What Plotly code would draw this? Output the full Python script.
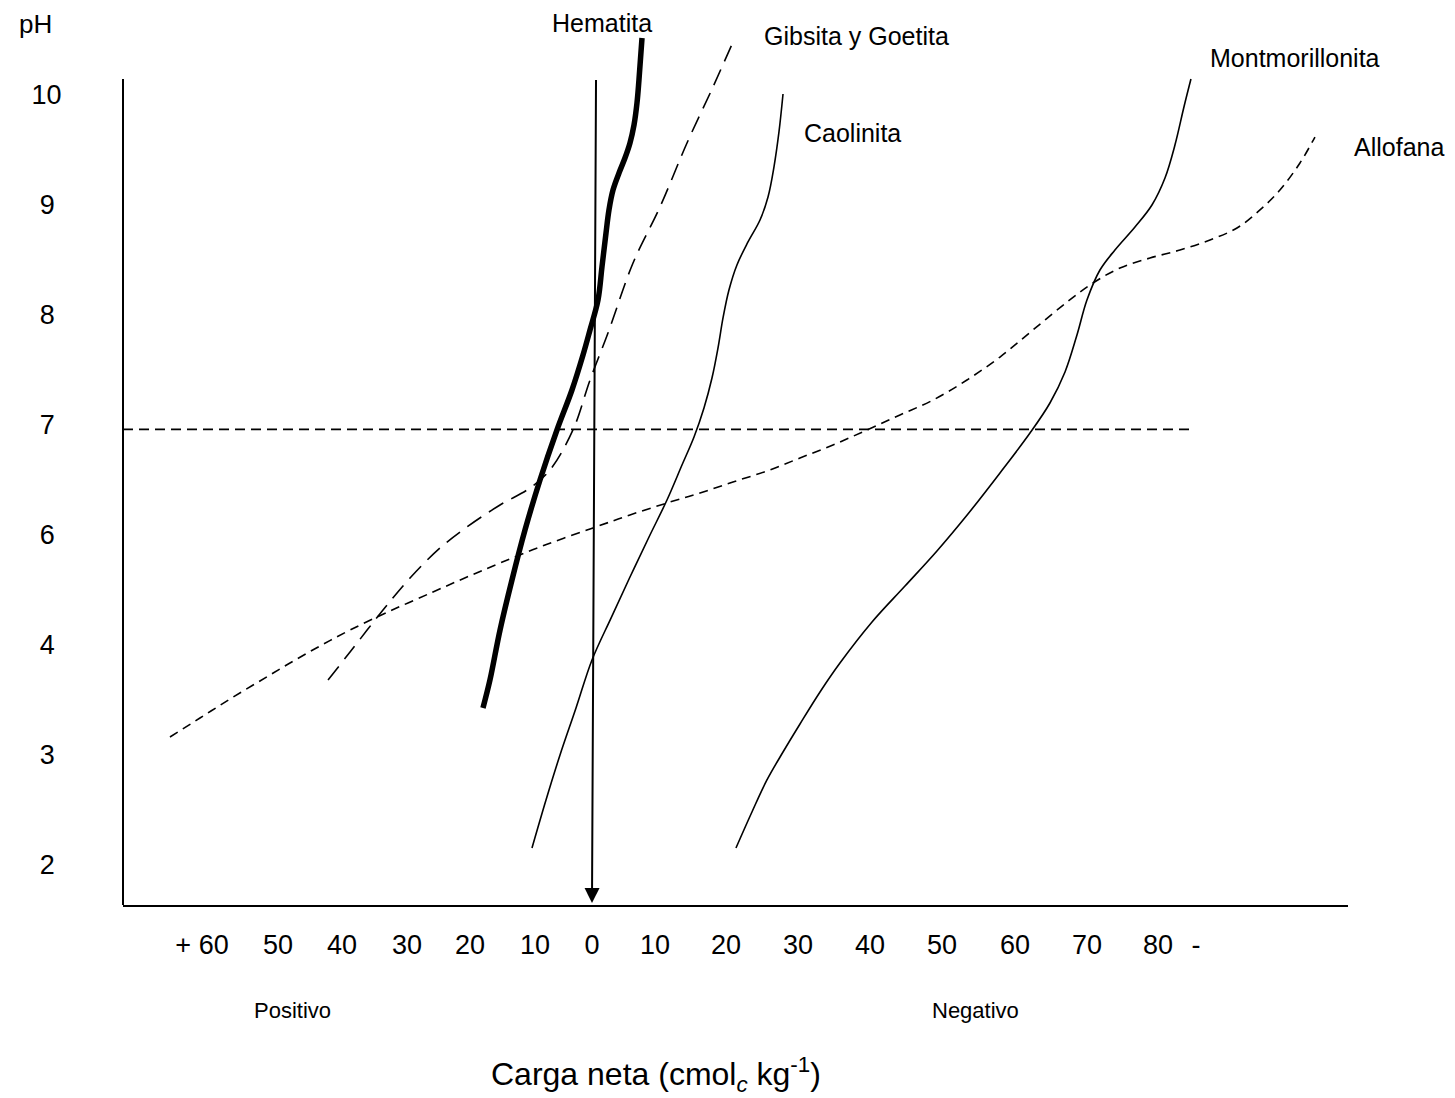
import plotly.graph_objects as go

# ---------------- data (x: net charge axis units, negative charge to the right; y: pH axis units) ----
hematita_x = [-15.41, -14.42, -13.00, -11.31, -9.47, -7.35, -4.95, -2.83, -1.27, -0.28, 0.85, 1.41,
              1.98, 2.40, 2.97, 3.82, 4.66, 5.37, 5.94, 6.36, 6.64, 7.07]
hematita_y = [4.427, 4.682, 5.136, 5.591, 6.045, 6.500, 6.955, 7.318, 7.636, 7.864, 8.136, 8.436,
              8.745, 8.955, 9.136, 9.291, 9.427, 9.564, 9.727, 9.927, 10.136, 10.518]

gibsita_x = [-37.31, -34.20, -29.54, -25.72, -21.48, -17.67, -13.00, -8.76, -5.94, -2.69, -0.28,
             2.26, 5.80, 9.61, 13.43, 17.10, 19.93]
gibsita_y = [4.682, 4.936, 5.318, 5.609, 5.882, 6.073, 6.273, 6.427, 6.591, 6.955, 7.409,
             7.836, 8.473, 8.982, 9.564, 10.073, 10.482]

caolinita_x = [-8.48, -6.50, -4.52, -2.26, 0.00, 2.69, 5.37, 8.06, 10.60, 12.72, 14.42, 15.83,
               16.96, 17.81, 18.52, 19.36, 20.49, 22.05, 23.75, 24.88, 25.72, 26.43, 27.00]
caolinita_y = [3.155, 3.591, 4.000, 4.427, 4.864, 5.245, 5.618, 5.982, 6.318, 6.636, 6.891, 7.155,
               7.427, 7.700, 7.973, 8.227, 8.455, 8.664, 8.864, 9.073, 9.345, 9.664, 10.009]

montmo_x = [20.35, 22.61, 24.73, 27.00, 29.40, 32.23, 35.05, 39.58, 44.24, 48.76, 53.14, 57.67,
            61.91, 64.73, 66.86, 68.55, 69.96, 71.80, 73.92, 76.75, 79.15, 80.99, 82.40, 83.67, 84.66]
montmo_y = [3.155, 3.482, 3.773, 4.027, 4.282, 4.573, 4.836, 5.209, 5.536, 5.855, 6.191, 6.564,
            6.927, 7.200, 7.482, 7.818, 8.136, 8.409, 8.591, 8.800, 9.000, 9.245, 9.545, 9.891, 10.145]

allofana_x = [-59.65, -55.41, -51.17, -46.93, -42.69, -38.45, -34.20, -28.55, -22.47, -17.67, -13.00,
              -6.64, 0.14, 5.37, 10.60, 15.27, 19.93, 24.73, 29.40, 34.06, 38.87, 43.53, 48.20, 53.00,
              57.67, 62.33, 67.14, 70.81, 74.63, 78.87, 83.11, 87.35, 91.17, 94.42, 97.24, 100.07, 102.19]
allofana_y = [4.164, 4.336, 4.509, 4.673, 4.836, 4.991, 5.136, 5.309, 5.482, 5.618, 5.745,
              5.909, 6.064, 6.182, 6.291, 6.382, 6.482, 6.582, 6.700, 6.818, 6.955, 7.091, 7.227, 7.409,
              7.618, 7.864, 8.118, 8.291, 8.427, 8.518, 8.591, 8.682, 8.791, 8.955, 9.136, 9.382, 9.618]

ph7_x = [-66.29, 84.80]
ph7_y = [6.96, 6.96]

# zero-charge arrow (tail top, head at axis)
arrow_tail = (0.57, 10.15)
arrow_head = (0.0, 2.655)

# tick labels
x_tickvals = [-55.12, -44.38, -35.34, -26.15, -17.24, -8.06, 0.0, 8.90, 18.94, 29.12, 39.29,
              49.47, 59.79, 69.96, 80.00, 85.37]
x_ticktext = ["+ 60", "50", "40", "30", "20", "10", "0", "10", "20", "30", "40", "50", "60",
              "70", "80", "-"]
y_tickvals = [10, 9, 8, 7, 6, 5, 4, 3]
y_ticktext = ["10", "9\u2005", "8\u2005", "7\u2005", "6\u2005", "4\u2005", "3\u2005", "2\u2005"]

X_RANGE = [-66.29, 106.86]
Y_RANGE = [2.6364, 10.7727]

FONT = "Liberation Sans, Arial, sans-serif"

fig = go.Figure()

def add_line(x, y, width, dash="solid"):
    fig.add_trace(go.Scatter(x=x, y=y, mode="lines",
                             line=dict(color="black", width=width, dash=dash, shape="spline", smoothing=1.0),
                             showlegend=False, hoverinfo="skip"))

add_line(ph7_x, ph7_y, 1.6, "10px,6px")
add_line(allofana_x, allofana_y, 1.6, "9px,6px")
add_line(gibsita_x, gibsita_y, 1.6, "17px,9px")
add_line(caolinita_x, caolinita_y, 1.6)
add_line(montmo_x, montmo_y, 1.6)
add_line(hematita_x, hematita_y, 5.5)

# zero-charge arrow
fig.add_annotation(x=arrow_head[0], y=arrow_head[1], ax=arrow_tail[0], ay=arrow_tail[1],
                   xref="x", yref="y", axref="x", ayref="y", text="", showarrow=True,
                   arrowhead=2, arrowwidth=2, arrowsize=1.5, arrowcolor="black", standoff=0)

# y axis line (drawn as a shape because it stops below the plot top)
fig.add_shape(type="line", xref="paper", x0=0, x1=0, yref="y", y0=Y_RANGE[0], y1=10.145,
              line=dict(color="black", width=2))

labels = [
    ("pH", -0.0718, 0.9844, 26),
    ("Hematita", 0.3910, 0.9860, 25),
    ("Gibsita y Goetita", 0.5984, 0.9709, 25),
    ("Caolinita", 0.5959, 0.8626, 25),
    ("Montmorillonita", 0.9567, 0.9469, 25),
    ("Allofana", 1.0416, 0.8469, 25),
    ("Positivo", 0.1380, -0.1184, 22),
    ("Negativo", 0.6963, -0.1184, 22),
    ("Carga neta (cmol<sub><i>c</i></sub> kg<sup>-1</sup>)", 0.4351, -0.1899, 32),
]
for txt, xp, yp, fs in labels:
    fig.add_annotation(x=xp, y=yp, xref="paper", yref="paper", text=txt, showarrow=False,
                       xanchor="center", yanchor="middle", font=dict(size=fs, color="black", family=FONT))

fig.update_xaxes(range=X_RANGE, showgrid=False, zeroline=False, showline=True, linecolor="black",
                 linewidth=2, ticks="outside", ticklen=15, tickcolor="rgba(0,0,0,0)",
                 tickmode="array", tickvals=x_tickvals, ticktext=x_ticktext,
                 tickfont=dict(size=27, color="black", family=FONT))
fig.update_yaxes(range=Y_RANGE, showgrid=False, zeroline=False, showline=False,
                 ticks="outside", ticklen=55, tickcolor="rgba(0,0,0,0)",
                 tickmode="array", tickvals=y_tickvals, ticktext=y_ticktext,
                 tickfont=dict(size=27, color="black", family=FONT))

# the page adds an 8px body margin, so the figure is 8px smaller and the left/top margins 8px tighter
fig.update_layout(width=1447, height=1090, margin=dict(l=115, r=107, t=2, b=193),
                  plot_bgcolor="white", paper_bgcolor="white", showlegend=False)

fig.write_html("out.html")
